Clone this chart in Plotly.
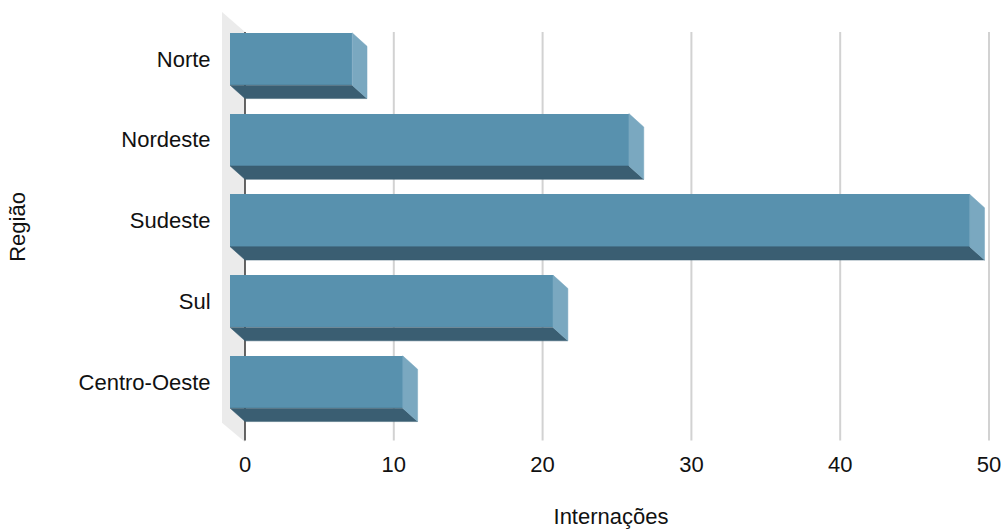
import plotly.graph_objects as go

# Internações por região
regioes = ["Norte", "Nordeste", "Sudeste", "Sul", "Centro-Oeste"]
internacoes = [8.2, 26.8, 49.7, 21.7, 11.6]
x_ticks = [0, 10, 20, 30, 40, 50]

# colours of the pseudo-3D faces
FRONT = "#5891AE"
SIDE = "#7AA8C0"
BOTTOM = "#3A5E72"
WALL = "#EBEBEB"
GRID = "#D2D2D2"
AXIS = "#333333"

# pseudo-3D geometry, in axis units
DX = 1.0        # depth shift of the bars along x
DY = 0.166      # depth shift of the bars along y (downwards)
HALF = 0.324    # half height of a bar's front face
WALL_DX = 1.546
WALL_TOP_FRONT, WALL_TOP_BACK = -0.582, -0.334
WALL_BOT_FRONT, WALL_BOT_BACK = 4.505, 4.743

pos = list(range(len(regioes)))

# side (end) faces and bottom faces as filled polygons
side_x, side_y, bot_x, bot_y = [], [], [], []
for p, v in zip(pos, internacoes):
    top, bot = p - HALF, p + HALF
    side_x += [v - DX, v, v, v - DX, v - DX, None]
    side_y += [top, top + DY, bot + DY, bot, top, None]
    bot_x += [-DX, v - DX, v, 0, -DX, None]
    bot_y += [bot, bot, bot + DY, bot + DY, bot, None]

fig = go.Figure()
fig.add_trace(go.Bar(
    y=pos, x=internacoes, base=-DX, orientation="h", width=2 * HALF,
    marker=dict(color=FRONT, line=dict(width=0)), hoverinfo="skip",
))
fig.add_trace(go.Scatter(
    x=bot_x, y=bot_y, mode="lines", fill="toself", fillcolor=BOTTOM,
    line=dict(color=BOTTOM, width=0.5), hoverinfo="skip",
))
fig.add_trace(go.Scatter(
    x=side_x, y=side_y, mode="lines", fill="toself", fillcolor=SIDE,
    line=dict(color=SIDE, width=0.5), hoverinfo="skip",
))

# back wall on the left, gridlines and the zero axis
shapes = [dict(
    type="path", layer="below", line=dict(width=0), fillcolor=WALL,
    path=(f"M {-WALL_DX},{WALL_TOP_FRONT} L 0,{WALL_TOP_BACK} "
          f"L 0,{WALL_BOT_BACK} L {-WALL_DX},{WALL_BOT_FRONT} Z"),
)]
for t in x_ticks[1:]:
    shapes.append(dict(type="line", layer="below", x0=t, x1=t,
                       y0=WALL_TOP_BACK, y1=WALL_BOT_BACK - 0.02,
                       line=dict(color=GRID, width=2)))
shapes.append(dict(type="line", layer="below", x0=0, x1=0,
                   y0=WALL_TOP_BACK, y1=WALL_BOT_BACK - 0.02,
                   line=dict(color=AXIS, width=1.5)))

FONT_SIZE = 22

fig.update_layout(
    width=1007, height=529,
    margin=dict(l=222, r=7, t=12, b=87),
    paper_bgcolor="white", plot_bgcolor="white",
    font=dict(family="Liberation Sans, Arial, sans-serif", size=FONT_SIZE, color="#111111"),
    showlegend=False, shapes=shapes, bargap=0,
    xaxis=dict(
        range=[-WALL_DX, 50.74], tickvals=x_ticks, showgrid=False, zeroline=False,
        showline=False, ticks="outside", ticklen=3, tickcolor="rgba(0,0,0,0)",
        tickfont=dict(size=FONT_SIZE), automargin=False,
        title=dict(text="Internações", standoff=34, font=dict(size=FONT_SIZE)),
        fixedrange=True,
    ),
    yaxis=dict(
        range=[4.743, -0.582], tickvals=pos, ticktext=regioes, showgrid=False,
        zeroline=False, showline=False, ticks="outside", ticklen=6,
        tickcolor="rgba(0,0,0,0)", tickfont=dict(size=FONT_SIZE), automargin=False,
        title=dict(text="Região", standoff=46, font=dict(size=FONT_SIZE)),
        fixedrange=True,
    ),
)

fig.write_html("out.html")
